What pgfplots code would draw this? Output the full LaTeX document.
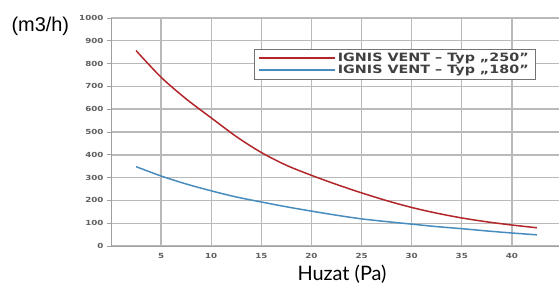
\documentclass[border=0pt]{standalone}
\usepackage{pgfplots}
\pgfplotsset{compat=1.18}
\usepackage{fontspec}
\setmainfont{Liberation Sans}
\newfontfamily\tickfont[FakeStretch=1.25]{DejaVu Sans}
\newfontfamily\legfont[FakeStretch=1.25]{DejaVu Sans}
\newfontfamily\gill{Lato}
\definecolor{gridc}{RGB}{185,185,185}
\definecolor{redc}{RGB}{178,38,42}
\definecolor{bluec}{RGB}{72,140,190}
\definecolor{tickc}{RGB}{95,95,95}
\begin{document}
\begin{tikzpicture}[x=1bp,y=1bp]
\useasboundingbox (0,0) rectangle (559,286);
\begin{axis}[
  at={(111bp,40bp)}, anchor=south west,
  scale only axis, width=448bp, height=228bp,
  xmin=0, xmax=44.7, ymin=0, ymax=1000,
  xtick={5,10,...,40}, ytick={0,100,...,1000},
  grid=major, major grid style={gridc, line width=1.4bp},
  axis x line*=bottom, axis y line*=left,
  axis line style={gray!75, line width=1bp},
  x tick style={draw=none},
  y tick style={gray!75, line width=0.8bp},
  tick align=outside, major tick length=4bp,
  /pgf/number format/assume math mode=true,
  /pgf/number format/1000 sep={},
  tick label style={font=\tickfont\bfseries\fontsize{7}{8}\selectfont, text=tickc},
  legend style={at={(0.319,0.864)}, anchor=north west, draw=gray!90!black,
    fill=white, font=\legfont\bfseries\fontsize{11.5}{12}\selectfont, text=black!75,
    row sep=-2bp, inner xsep=4bp, inner ysep=2.2bp},
  legend cell align=left,
  legend image code/.code={\draw[#1, line width=1.8bp] (6bp,0bp) -- (82bp,0bp);},
]
\addplot[redc, line width=1.5bp, smooth] coordinates {
(2.5,857) (5,740) (7.5,645) (10,562) (12.5,480) (15,410) (17.5,354) (20,310)
(22.5,270) (25,233) (27.5,199) (30,169) (32.5,144) (35,123) (37.5,106) (40,92) (42.5,80)};
\addlegendentry{IGNIS VENT – Typ „250”}
\addplot[bluec, line width=1.5bp, smooth] coordinates {
(2.5,348) (5,307) (7.5,272) (10,242) (12.5,215) (15,193) (17.5,172) (20,153)
(22.5,135) (25,119) (27.5,107) (30,96) (32.5,85) (35,76) (37.5,66) (40,57) (42.5,49)};
\addlegendentry{IGNIS VENT – Typ „180”}
\end{axis}
\node[anchor=west, font=\fontsize{20}{20}\selectfont] at (8,260) {(m3/h)};
\node[font=\gill\fontsize{20}{20}\selectfont] at (342,12) {Huzat (Pa)};
\end{tikzpicture}
\end{document}
